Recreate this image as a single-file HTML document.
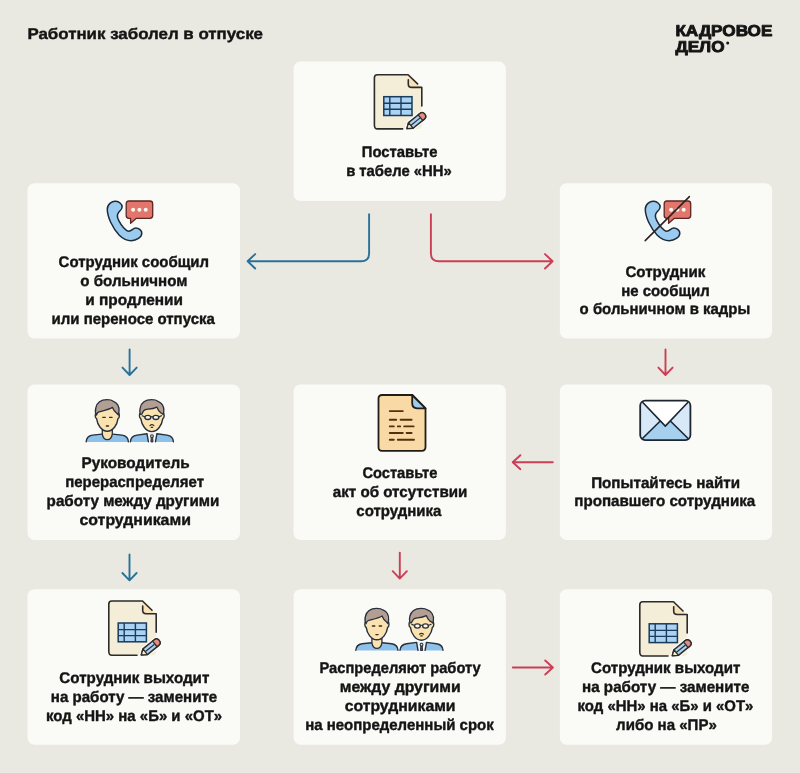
<!DOCTYPE html>
<html lang="ru">
<head>
<meta charset="utf-8">
<title>Работник заболел в отпуске</title>
<style>
html,body{margin:0;padding:0;background:#e9e9e2;}
body{width:800px;height:773px;overflow:hidden;font-family:"Liberation Sans",sans-serif;}
svg{display:block;position:absolute;left:0;top:0;will-change:transform;}
text{font-family:"Liberation Sans",sans-serif;font-weight:bold;fill:#141414;text-rendering:geometricPrecision;stroke:#141414;stroke-width:0.4px;stroke-linejoin:round;}
.t{font-size:15px;text-anchor:middle;}
.box{fill:#fafaf7;}
.ab{fill:none;stroke:#2a7199;stroke-width:1.9;stroke-linecap:round;stroke-linejoin:round;}
.ar{fill:none;stroke:#c93f56;stroke-width:1.9;stroke-linecap:round;stroke-linejoin:round;}
</style>
</head>
<body>
<svg width="800" height="773" viewBox="0 0 800 773">
<defs>
  <!-- table document icon, origin at doc top-left (outer) -->
  <g id="docTable">
    <path d="M4 1 H34.8 L48.4 13.8 V51.2 Q48.4 55.2 44.4 55.2 H4 Q1 55.2 1 51.2 V4 Q1 1 4 1 Z" fill="#f4edd8" stroke="none"/>
    <path d="M34.9 1.3 V10.2 Q34.9 13.7 38.4 13.7 H47.6 Z" fill="#f7e2ba" stroke="none"/>
    <path d="M48.4 32.2 V13.7 H38.4 Q34.9 13.7 34.9 10.2 V6" fill="none" stroke="#2d2b29" stroke-width="1.6" stroke-linecap="round" stroke-linejoin="round"/>
    <path d="M44.2 10.2 L34.7 1 H4 Q1 1 1 4 V51.2 Q1 55.2 4 55.2 H29.2" fill="none" stroke="#2d2b29" stroke-width="1.6" stroke-linecap="round" stroke-linejoin="round"/>
    <rect x="10.4" y="23" width="28.2" height="18.8" fill="#a9d2f3" stroke="#1b3b5b" stroke-width="1.5"/>
    <path d="M10.4 29.6 H38.6 M10.4 35.6 H38.6 M16.4 23 V41.8 M27.6 23 V41.8" fill="none" stroke="#1b3b5b" stroke-width="1.4"/>
    <!-- pencil -->
    <g transform="translate(33.5 54.9) rotate(-39)">
      <path d="M0 0 L5 -3.6 H19.2 Q23 -3.6 23 0 Q23 3.6 19.2 3.6 H5 Z" fill="#fafaf7" stroke="#fafaf7" stroke-width="4" stroke-linejoin="round"/>
      <path d="M0 0 L5 -3.6 H19.2 Q23 -3.6 23 0 Q23 3.6 19.2 3.6 H5 Z" fill="#a9d2f3" stroke="#2d2b29" stroke-width="1.5" stroke-linejoin="round"/>
      <path d="M0 0 L5 -3.6 V3.6 Z" fill="#f8edd0" stroke="#2d2b29" stroke-width="1.3" stroke-linejoin="round"/>
      <path d="M17.4 -3.6 H19.2 Q23 -3.6 23 0 Q23 3.6 19.2 3.6 H17.4 Z" fill="#e98a80" stroke="#2d2b29" stroke-width="1.3" stroke-linejoin="round"/>
      <path d="M5.4 0 H17" stroke="#2d2b29" stroke-width="1.1" fill="none"/>
    </g>
  </g>

  <!-- phone + bubble icon, origin such that phone left = 0, top = 0 -->
  <g id="phone">
    <path transform="translate(0.5 0.7)" d="M9.5 0.6 C6 0.2 1 3 1 8.5 C1 16 6 27 13 34.5 C17 38.5 21 40 25 40 C30 40 35.5 36.5 35.5 32.5 C35.5 29.5 32 27.2 29.5 27.2 C26.5 27.2 25.5 30.5 22.5 30.5 C19.5 30.5 15 25 12.5 20 C10.5 16 10.5 13.5 12.5 11.5 C14.5 9.5 15.8 8.5 15.8 6.2 C15.8 3 12.5 0.9 9.5 0.6 Z" fill="#9ccbf0" stroke="#1e2b3a" stroke-width="1.5" stroke-linejoin="round"/>
    <path transform="translate(0.6 0.3)" d="M22.5 0.7 H43.5 Q46.3 0.7 46.3 3.5 V15.2 Q46.3 18 43.5 18 H30 L24.2 23 V18 H22.5 Q19.8 18 19.8 15.2 V3.5 Q19.8 0.7 22.5 0.7 Z" fill="#e2756c" stroke="#5c2624" stroke-width="1.3" stroke-linejoin="round"/>
    <circle cx="27.3" cy="9.8" r="2" fill="#fff7ea"/>
    <circle cx="33.6" cy="9.8" r="2" fill="#fff7ea"/>
    <circle cx="39.9" cy="9.8" r="2" fill="#fff7ea"/>
  </g>

  <!-- orange text document, origin at doc top-left -->
  <g id="docText">
    <path d="M4.8 1.4 H35 L48.3 14.7 V53.4 Q48.3 57.3 44.4 57.3 H4.8 Q1.3 57.3 1.3 53.4 V4.8 Q1.3 1.4 4.8 1.4 Z" fill="#f9d9a6" stroke="#221c16" stroke-width="1.8" stroke-linejoin="round"/>
    <path d="M35 1.4 L48.3 14.7 H40 Q35 14.7 35 9.7 Z" fill="#9ccbf0" stroke="#221c16" stroke-width="1.8" stroke-linejoin="round"/>
    <path d="M12.6 17.5 H25.6 M12.6 26.2 H19 M23.4 26.2 H34.4 M12.6 32.8 H16.6 M20.6 32.8 H23 M27 32.8 H36.4 M12.6 39.4 H25.6 M29.4 39.4 H34.4 M12.6 46.2 H16.6 M20.6 46.2 H36.8" fill="none" stroke="#54300f" stroke-width="1.9" stroke-linecap="round"/>
  </g>

  <!-- envelope, origin top-left -->
  <g id="env">
    <rect x="1" y="1" width="50.2" height="39.4" rx="5" fill="#d7e8f8"/>
    <path d="M3.5 38.6 L20.8 21.6 L26.1 26.4 L31.4 21.6 L48.7 38.6 Q47.5 40.4 46 40.4 H6 Q4.5 40.4 3.5 38.6 Z" fill="#a7d0ef"/>
    <path d="M3.6 2.8 Q4.6 1 6 1 H46 Q47.6 1 48.6 2.8 L26.1 26.4 Z" fill="#ffffff"/>
    <path d="M3.6 2.8 L26.1 26.4 L48.6 2.8 M3.5 38.6 L20.8 21.6 M48.7 38.6 L31.4 21.6" fill="none" stroke="#1d2530" stroke-width="1.6" stroke-linejoin="round" stroke-linecap="round"/>
    <rect x="1" y="1" width="50.2" height="39.4" rx="5" fill="none" stroke="#1d2530" stroke-width="1.8"/>
  </g>

  <!-- two persons, origin: left shoulder x=0, hair top y=0 -->
  <g id="men" stroke-linejoin="round" stroke-linecap="round">
    <!-- person 1 -->
    <g>
      <path d="M0.2 42.6 C0.4 38.5 2.6 36.3 6.5 35.7 L16 34.7 H26.8 L36 35.7 C40 36.3 42.2 38.5 42.4 42.6 Z" fill="#8ec1ea"/>
      <path d="M0.2 42.3 C0.4 38.5 2.6 36.3 6.5 35.7 L16 34.7 M26.8 34.7 L36 35.700 C40 36.3 42.2 38.5 42.400 42.300" fill="none" stroke="#27303b" stroke-width="1.400"/>
      <path d="M16.300 30.500 V34.800 C17 39 19.500 40.300 21.300 40.300 C23.100 40.300 25.600 39 26.300 34.800 V30.500 Z" fill="#fae3b0" stroke="#27303b" stroke-width="1.300"/>
      <path d="M10.400 13.500 C8.800 14.300 8.800 18.600 10.600 19.300 C11.400 25.500 15.500 31.800 21.300 31.800 C27.100 31.800 31.200 25.500 32 19.300 C33.800 18.600 33.800 14.300 32.200 13.500 C32.200 6 28 2 21.300 2 C14.600 2 10.400 6 10.400 13.500 Z" fill="#fae3b0" stroke="#27303b" stroke-width="1.400"/>
      <path d="M10.500 15.600 C9.400 14 9.200 11 9.800 8.500 C11 3 15.500 0.300 21 0.300 C24 0.300 26 0.800 27.300 1.900 C31 3 33.600 7 33 12 C32.900 13.500 32.600 14.800 32.300 15.600 C31.600 14.400 30.800 13.600 30.200 13.200 C28.500 12 27.300 10 26.500 8 C22 10.700 16.500 11.400 12.800 12.500 C11.600 13 10.900 14 10.500 15.600 Z" fill="#b39e94" stroke="#27303b" stroke-width="1.300"/>
      <path d="M16.800 18 H19.200 M23.600 18 H26 M20.300 26.600 H22.500" stroke="#3a2c20" stroke-width="1.300" fill="none"/>
    </g>
    <!-- person 2 -->
    <g transform="translate(44.600 0)">
      <path d="M-0.200 42.600 C0 38.500 2.400 36.300 6.400 35.700 L16.200 34.400 H26.500 L36.400 35.700 C40.400 36.300 42.600 38.500 42.800 42.600 Z" fill="#8ec1ea"/>
      <path d="M16.400 34.400 L17.800 42.600 H24.900 L26.300 34.400 Z" fill="#f6f7f8"/>
      <path d="M-0.200 42.300 C0 38.500 2.400 36.300 6.400 35.700 L16.400 34.400 L17.800 42.300 M24.900 42.300 L26.300 34.400 L36.400 35.700 C40.400 36.300 42.600 38.500 42.800 42.300" fill="none" stroke="#27303b" stroke-width="1.400"/>
      <path d="M20.700 38 L20.300 42.500 H22.400 L22 38 Z" fill="#6b4a5a" stroke="#27303b" stroke-width="1"/>
      <circle cx="21.350" cy="36.700" r="1.400" fill="#f1e6e0" stroke="#27303b" stroke-width="1.100"/>
      <path d="M10 13.500 C8.400 14.300 8.400 18.600 10.200 19.300 C11 25.500 15.400 32.200 21.200 32.200 C27 32.200 31.400 25.500 32.200 19.300 C34 18.600 34 14.300 32.400 13.500 C32.400 6 28 2 21.200 2 C14.400 2 10 6 10 13.500 Z" fill="#fae3b0" stroke="#27303b" stroke-width="1.400"/>
      <path d="M11.200 14.800 C10.400 15 9.800 15.200 9.600 14.400 C9 12 9.200 10 9.600 8.500 C10.800 3 15.500 0.300 21 0.300 C24 0.300 26 0.800 27.300 1.900 C31 3 33.800 7 33.200 12 C33.100 13.500 32.900 14.500 32.600 15.200 C31.800 14.200 30.800 13.600 29.900 13.200 C28.200 11.800 27 9.800 26.200 7.700 C23 9.300 20 9.600 17.500 9.800 C15 10 13.800 10.400 13.200 11.300 C12.400 12.300 11.800 13.500 11.200 14.800 Z" fill="#b39e94" stroke="#27303b" stroke-width="1.300"/>
      <ellipse cx="17.200" cy="18" rx="2.900" ry="2.100" fill="#fbf4e6" stroke="#27303b" stroke-width="1.300"/>
      <ellipse cx="25.300" cy="18" rx="2.900" ry="2.100" fill="#fbf4e6" stroke="#27303b" stroke-width="1.300"/>
      <path d="M20.100 17.600 Q21.250 16.900 22.400 17.600 M14.300 17.500 L11.600 16.400 M28.200 17.500 L30.900 16.300" stroke="#27303b" stroke-width="1.200" fill="none"/>
      <path d="M19.300 26.200 Q21.300 24.400 23.300 26.200 M20.600 27.900 H22" stroke="#3a2c20" stroke-width="1.200" fill="none"/>
    </g>
  </g>
</defs>

<!-- boxes -->
<rect class="box" x="293.5" y="61.6" width="212.4" height="139.4" rx="7"/>
<rect class="box" x="27.5" y="183.2" width="212.5" height="155.4" rx="7"/>
<rect class="box" x="559.8" y="183.2" width="212.3" height="155.4" rx="7"/>
<rect class="box" x="27.5" y="384.4" width="212.5" height="155.6" rx="7"/>
<rect class="box" x="293.5" y="384.4" width="212.4" height="155.6" rx="7"/>
<rect class="box" x="559.8" y="384.4" width="212.3" height="155.6" rx="7"/>
<rect class="box" x="27.5" y="589.3" width="212.5" height="155.5" rx="7"/>
<rect class="box" x="293.5" y="589.3" width="212.4" height="155.5" rx="7"/>
<rect class="box" x="559.8" y="589.3" width="212.3" height="155.5" rx="7"/>

<!-- title -->
<text x="27.4" y="39.3" font-size="15.5" textLength="235.6" lengthAdjust="spacingAndGlyphs">Работник заболел в отпуске</text>

<!-- logo -->
<g id="logo">
<text x="675.4" y="36.1" font-size="15.8" textLength="97" lengthAdjust="spacingAndGlyphs" style="stroke-width:0.9px">КАДРОВОЕ</text>
<text x="675.4" y="52.3" font-size="15.8" textLength="49.2" lengthAdjust="spacingAndGlyphs" style="stroke-width:0.9px">ДЕЛО</text>
<circle cx="727.7" cy="42.9" r="1.5" stroke="none" fill="#141414"/>
</g>

<!-- arrows -->
<path class="ab" d="M369.1 214.2 V253.3 Q369.1 261.3 361.1 261.3 H247.6 M255.2 254.1 L247.6 261.3 L255.2 268.5"/>
<path class="ar" d="M430.9 214.2 V253.3 Q430.9 261.3 438.9 261.3 H552.6 M545 254.1 L552.6 261.3 L545 268.5"/>
<path class="ab" d="M129.6 349.4 V374.8 M122.5 367.600 L129.600 375 L136.700 367.600"/>
<path class="ar" d="M665.5 349.400 V374.800 M658.400 367.600 L665.500 375 L672.600 367.600"/>
<path class="ab" d="M129.500 554.400 V580.200 M122.400 573 L129.500 580.400 L136.600 573"/>
<path class="ar" d="M399.800 552.600 V578.400 M392.700 571.200 L399.800 578.600 L406.900 571.200"/>
<path class="ar" d="M552.800 462.200 H512.800 M520.400 455.200 L512.700 462.200 L520.400 469.200"/>
<path class="ar" d="M512.800 667.500 H552.800 M545.200 660.500 L552.900 667.500 L545.200 674.500"/>

<!-- icons -->
<use href="#docTable" x="373.4" y="73.7"/>
<use href="#docTable" x="107.8" y="600"/>
<use href="#docTable" x="638.8" y="600.8"/>

<use href="#phone" x="105.8" y="200"/>
<use href="#phone" x="643.8" y="200"/>
<path d="M645.2 240.6 L689.4 196.6" stroke="#2b2020" stroke-width="1.5" stroke-linecap="round" fill="none"/>

<use href="#docText" x="377.2" y="393.6"/>
<use href="#env" x="639.2" y="399.7"/>
<use href="#men" x="86" y="399.400"/>
<use href="#men" x="355.6" y="608"/>

<!-- text -->
<g font-size="15.5">
<text x="361.80" y="156.8" textLength="75.60" lengthAdjust="spacingAndGlyphs">Поставьте</text>
<text x="346.14" y="175.8" textLength="105.51" lengthAdjust="spacingAndGlyphs">в табеле «НН»</text>
<text x="58.60" y="266.8" textLength="150.43" lengthAdjust="spacingAndGlyphs">Сотрудник сообщил</text>
<text x="80.37" y="285.9" textLength="107.00" lengthAdjust="spacingAndGlyphs">о больничном</text>
<text x="85.31" y="304.8" textLength="97.69" lengthAdjust="spacingAndGlyphs">и продлении</text>
<text x="51.59" y="323.8" textLength="163.26" lengthAdjust="spacingAndGlyphs">или переносе отпуска</text>
<text x="625.40" y="276.5" textLength="79.93" lengthAdjust="spacingAndGlyphs">Сотрудник</text>
<text x="621.14" y="295.5" textLength="88.66" lengthAdjust="spacingAndGlyphs">не сообщил</text>
<text x="579.60" y="314.4" textLength="170.60" lengthAdjust="spacingAndGlyphs">о больничном в кадры</text>
<text x="81.50" y="468.3" textLength="108.24" lengthAdjust="spacingAndGlyphs">Руководитель</text>
<text x="65.13" y="487.3" textLength="138.89" lengthAdjust="spacingAndGlyphs">перераспределяет</text>
<text x="46.60" y="506.2" textLength="172.78" lengthAdjust="spacingAndGlyphs">работу между другими</text>
<text x="79.50" y="525.0" textLength="111.42" lengthAdjust="spacingAndGlyphs">сотрудниками</text>
<text x="362.40" y="477.5" textLength="75.00" lengthAdjust="spacingAndGlyphs">Составьте</text>
<text x="332.79" y="496.5" textLength="134.60" lengthAdjust="spacingAndGlyphs">акт об отсутствии</text>
<text x="356.37" y="515.6" textLength="85.08" lengthAdjust="spacingAndGlyphs">сотрудника</text>
<text x="591.15" y="487.5" textLength="148.90" lengthAdjust="spacingAndGlyphs">Попытайтесь найти</text>
<text x="574.32" y="506.3" textLength="180.90" lengthAdjust="spacingAndGlyphs">пропавшего сотрудника</text>
<text x="59.36" y="682.5" textLength="149.97" lengthAdjust="spacingAndGlyphs">Сотрудник выходит</text>
<text x="50.80" y="701.5" textLength="166.40" lengthAdjust="spacingAndGlyphs">на работу — замените</text>
<text x="46.08" y="720.6" textLength="176.05" lengthAdjust="spacingAndGlyphs">код «НН» на «Б» и «ОТ»</text>
<text x="319.50" y="673.3" textLength="161.20" lengthAdjust="spacingAndGlyphs">Распределяют работу</text>
<text x="339.78" y="692.3" textLength="120.85" lengthAdjust="spacingAndGlyphs">между другими</text>
<text x="344.70" y="711.2" textLength="110.89" lengthAdjust="spacingAndGlyphs">сотрудниками</text>
<text x="305.13" y="730.3" textLength="188.60" lengthAdjust="spacingAndGlyphs">на неопределенный срок</text>
<text x="591.00" y="673.2" textLength="149.31" lengthAdjust="spacingAndGlyphs">Сотрудник выходит</text>
<text x="582.07" y="692.3" textLength="167.39" lengthAdjust="spacingAndGlyphs">на работу — замените</text>
<text x="577.60" y="711.2" textLength="175.79" lengthAdjust="spacingAndGlyphs">код «НН» на «Б» и «ОТ»</text>
<text x="616.12" y="730.3" textLength="100.73" lengthAdjust="spacingAndGlyphs">либо на «ПР»</text>
</g>
</svg>
</body>
</html>
